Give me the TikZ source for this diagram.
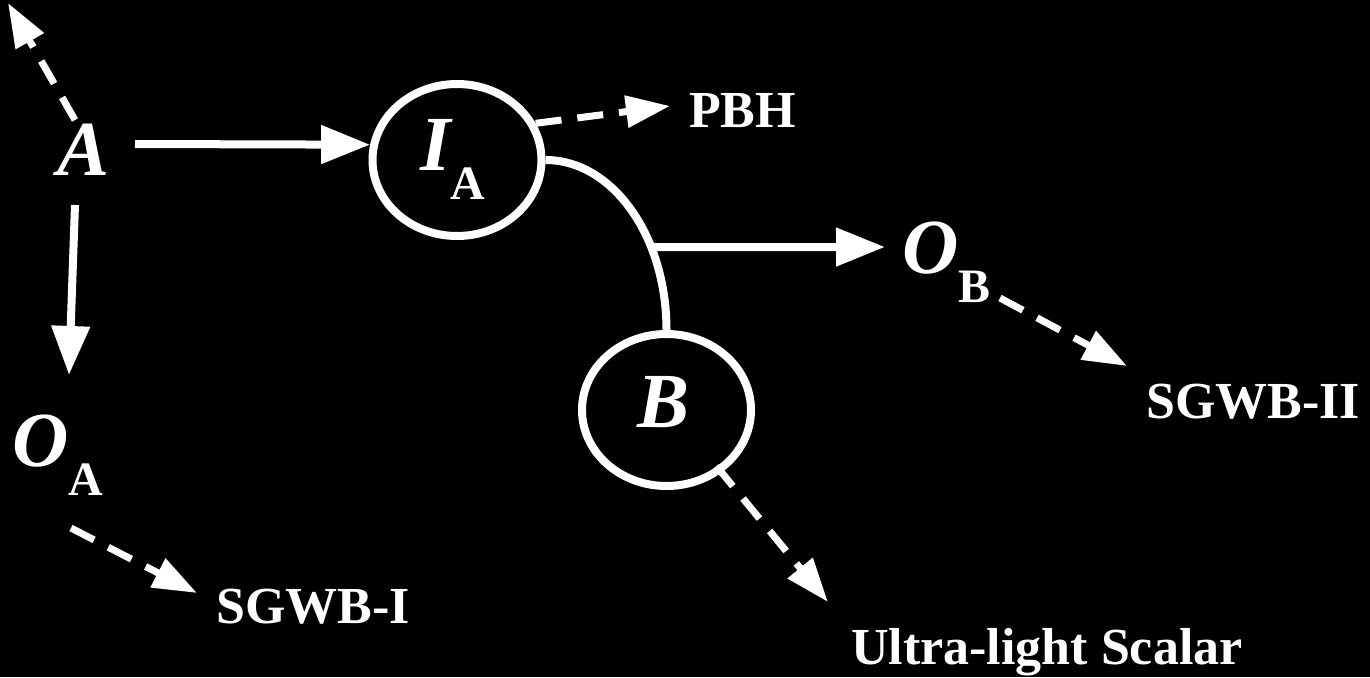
\documentclass[tikz,border=0pt]{standalone}
\usepackage{fontspec}
\setmainfont{Liberation Serif}
\usetikzlibrary{arrows.meta,shapes.geometric}
% lowered upright subscript used after the big italic letters
\newcommand\lowsub[1]{\raisebox{-29pt}{\fontsize{48}{50}\selectfont\bfseries\upshape #1}}
\begin{document}
\begin{tikzpicture}[x=1pt,y=-1pt,
  big/.style={font=\fontsize{78}{80}\selectfont\bfseries\itshape, text=white, inner sep=0pt, anchor=base west},
  lbl/.style={font=\fontsize{52}{60}\selectfont\bfseries, text=white, inner sep=0pt, anchor=base west},
  ring/.style={draw=white, line width=8pt, ellipse, minimum width=169pt, minimum height=152pt, inner sep=0pt},
  flow/.style={draw=white, line width=8pt, -{Triangle[length=49pt,width=37pt]}},
  hint/.style={draw=white, line width=7pt, dash pattern=on 26pt off 16pt, -{Triangle[length=44pt,width=31pt]}},
]
\fill[black] (0,0) rectangle (1370,677);
\useasboundingbox (0,0) rectangle (1370,677);

% states and labels
\node[big] (A) at (57,175) {A};
\node[ring] (IA) at (457,160) {};
\node[big] (IAt) at (420,170) {I\lowsub{A}};
\node[ring] (B) at (666.5,410) {};
\node[big] (Bt) at (637,427) {B};
\node[big] (OA) at (12,466) {O\lowsub{A}};
\node[big] (OB) at (902,273) {O\lowsub{B}};
\node[lbl] (PBH) at (689,127) {PBH};
\node[lbl] (SGWBI) at (216,623) {SGWB-I};
\node[lbl] (SGWBII) at (1146,418) {SGWB-II};
\node[lbl] (ULS) at (851,664) {Ultra-light Scalar};
\coordinate (escape) at (8,3);

% solid transitions
\draw[flow] ([shift={(78,-31)}]A.base west) -- (IA.170);
\draw[flow] ([shift={(18,30)}]A.base west) -- ([shift={(57,-91)}]OA.base west);
\draw[white, line width=8pt] (IA.east) .. controls +(67,0) and +(0,-94) .. (B.north)
  coordinate[pos=0.68] (fork);
\draw[flow] (fork) -- ([shift={(-17,-26)}]OB.base west);

% dashed products
\draw[hint] ([shift={(18,-55)}]A.base west) -- (escape);
\draw[hint] (IA.25) -- ([shift={(-19,-21)}]PBH.base west);
\draw[hint] ([shift={(98,25)}]OB.base west) -- ([shift={(-19,-52)}]SGWBII.base west);
\draw[hint] ([shift={(-6,-6)}]B.-48) -- ([shift={(-23,-62)}]ULS.base west);
\draw[hint] ([shift={(59,62)}]OA.base west) -- ([shift={(-19,-30)}]SGWBI.base west);
\end{tikzpicture}
\end{document}
